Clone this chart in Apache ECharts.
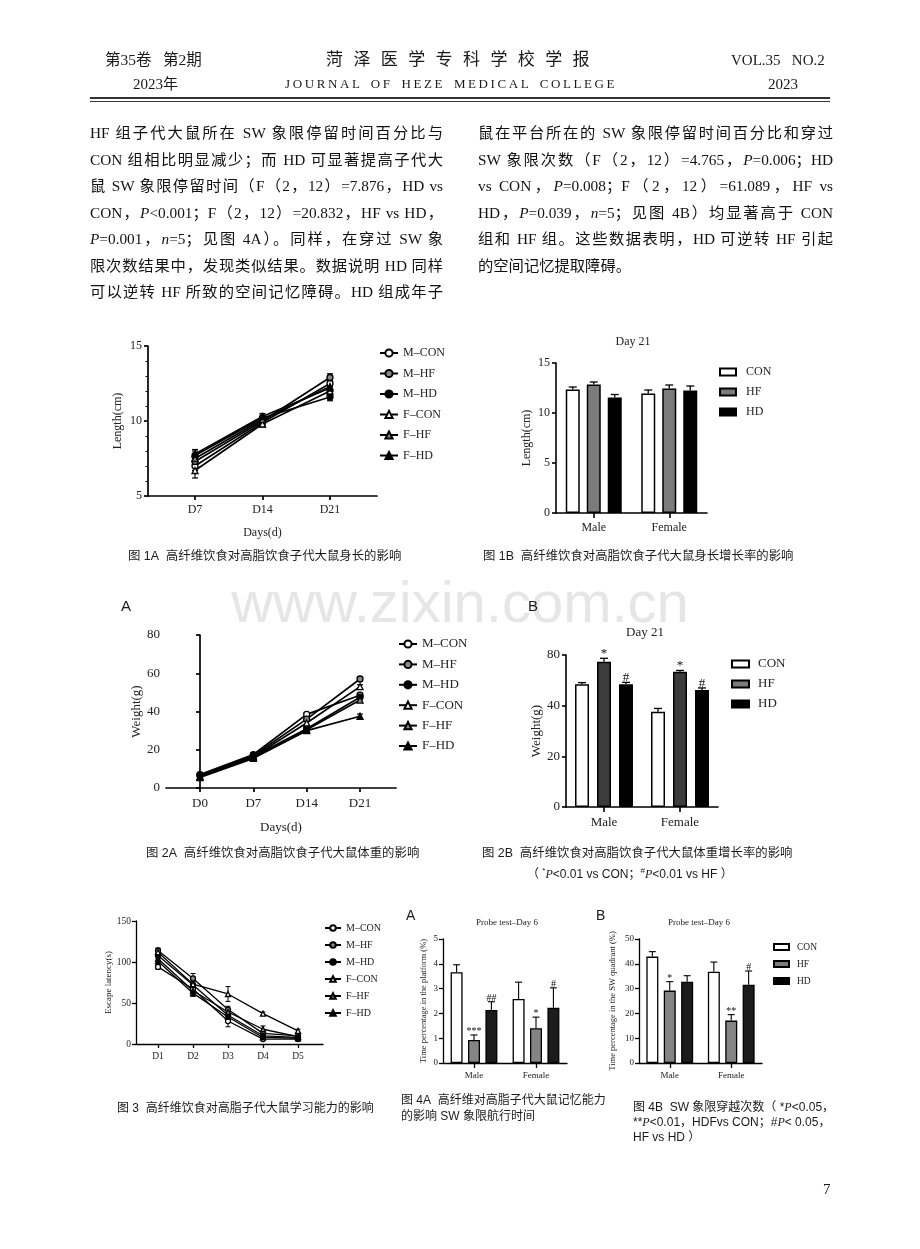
<!DOCTYPE html>
<html><head><meta charset="utf-8">
<script src="https://cdn.jsdelivr.net/npm/echarts@6/dist/echarts.min.js"></script>
<style>
html,body{margin:0;padding:0;background:#fff;}
#page{position:relative;width:920px;height:1249px;overflow:hidden;background:#fff;}
#chart{position:absolute;left:0;top:0;width:920px;height:1249px;z-index:0;}
.t{position:absolute;white-space:nowrap;color:#1a1a1a;z-index:2;}
.serif{font-family:"Liberation Serif","Noto Sans CJK SC",serif;}
.cap{position:absolute;white-space:nowrap;color:#1a1a1a;z-index:2;font-family:"Liberation Sans","Noto Sans CJK SC",sans-serif;font-size:12.4px;line-height:16px;}
.cap2{position:absolute;white-space:nowrap;color:#1a1a1a;z-index:2;font-family:"Liberation Sans","Noto Sans CJK SC",sans-serif;font-size:12px;line-height:16px;}
.para{position:absolute;font-family:"Liberation Serif","Noto Sans CJK SC",serif;font-size:15.3px;line-height:20px;height:20px;overflow:hidden;text-align:justify;text-align-last:justify;color:#111;z-index:2;}
.rule{position:absolute;background:#333;z-index:2;}
</style></head>
<body><div id="page">
<div id="chart"></div>

<div class="t serif" style="left:105px;top:50px;font-size:15.5px;line-height:20px;">第35卷</div>
<div class="t serif" style="left:163px;top:50px;font-size:15.5px;line-height:20px;">第2期</div>
<div class="t serif" style="left:326px;top:49px;font-size:17px;line-height:22px;letter-spacing:10.4px;">菏泽医学专科学校学报</div>
<div class="t serif" style="left:731px;top:50px;font-size:15px;line-height:20px;">VOL.35&nbsp;&nbsp;&nbsp;NO.2</div>
<div class="t serif" style="left:133px;top:74px;font-size:15px;line-height:20px;">2023年</div>
<div class="t serif" style="left:285px;top:75px;font-size:13px;line-height:18px;letter-spacing:2.6px;word-spacing:3px;">JOURNAL OF HEZE MEDICAL COLLEGE</div>
<div class="t serif" style="left:768px;top:74px;font-size:15px;line-height:20px;">2023</div>
<div class="rule" style="left:90px;top:97px;width:740px;height:1.5px;"></div>
<div class="rule" style="left:90px;top:101px;width:740px;height:0.8px;"></div>

<div class="para" style="left:90px;top:123px;width:353px;">HF 组子代大鼠所在 SW 象限停留时间百分比与</div>
<div class="para" style="left:90px;top:150px;width:353px;">CON 组相比明显减少；而 HD 可显著提高子代大</div>
<div class="para" style="left:90px;top:176px;width:353px;">鼠 SW 象限停留时间（F（2，12）=7.876，HD vs</div>
<div class="para" style="left:90px;top:203px;width:353px;">CON，<i>P</i>&lt;0.001；F（2，12）=20.832，HF vs HD，</div>
<div class="para" style="left:90px;top:229px;width:353px;"><i>P</i>=0.001，<i>n</i>=5；见图 4A）。同样，在穿过 SW 象</div>
<div class="para" style="left:90px;top:256px;width:353px;">限次数结果中，发现类似结果。数据说明 HD 同样</div>
<div class="para" style="left:90px;top:282px;width:353px;">可以逆转 HF 所致的空间记忆障碍。HD 组成年子</div>

<div class="para" style="left:478px;top:123px;width:355px;">鼠在平台所在的 SW 象限停留时间百分比和穿过</div>
<div class="para" style="left:478px;top:150px;width:355px;">SW 象限次数（F（2，12）=4.765，<i>P</i>=0.006；HD</div>
<div class="para" style="left:478px;top:176px;width:355px;">vs CON，<i>P</i>=0.008；F（2，12）=61.089，HF vs</div>
<div class="para" style="left:478px;top:203px;width:355px;">HD，<i>P</i>=0.039，<i>n</i>=5；见图 4B）均显著高于 CON</div>
<div class="para" style="left:478px;top:229px;width:355px;">组和 HF 组。这些数据表明，HD 可逆转 HF 引起</div>
<div class="para" style="left:478px;top:256px;width:355px;text-align:left;text-align-last:left;">的空间记忆提取障碍。</div>

<div class="cap" style="left:128px;top:548px;">图 1A&nbsp;&nbsp;高纤维饮食对高脂饮食子代大鼠身长的影响</div>
<div class="cap" style="left:483px;top:548px;">图 1B&nbsp;&nbsp;高纤维饮食对高脂饮食子代大鼠身长增长率的影响</div>
<div class="cap" style="left:121px;top:597px;font-size:15px;line-height:18px;">A</div>
<div class="cap" style="left:528px;top:597px;font-size:15px;line-height:18px;">B</div>
<div class="cap" style="left:146px;top:845px;">图 2A&nbsp;&nbsp;高纤维饮食对高脂饮食子代大鼠体重的影响</div>
<div class="cap" style="left:482px;top:845px;">图 2B&nbsp;&nbsp;高纤维饮食对高脂饮食子代大鼠体重增长率的影响</div>
<div class="cap2" style="left:527px;top:863px;">（ <sup style="font-size:8px;">*</sup><i class="serif">P</i>&lt;0.01 vs CON；<sup style="font-size:8px;">#</sup><i class="serif">P</i>&lt;0.01 vs HF ）</div>
<div class="cap" style="left:406px;top:906px;font-size:14px;line-height:18px;">A</div>
<div class="cap" style="left:596px;top:906px;font-size:14px;line-height:18px;">B</div>
<div class="cap2" style="left:117px;top:1100px;">图 3&nbsp;&nbsp;高纤维饮食对高脂子代大鼠学习能力的影响</div>
<div class="cap2" style="left:401px;top:1092px;">图 4A&nbsp;&nbsp;高纤维对高脂子代大鼠记忆能力</div>
<div class="cap2" style="left:401px;top:1108px;">的影响 SW 象限航行时间</div>
<div class="cap2" style="left:633px;top:1099px;">图 4B&nbsp;&nbsp;SW 象限穿越次数（ *<i class="serif">P</i>&lt;0.05，</div>
<div class="cap2" style="left:633px;top:1114px;">**<i class="serif">P</i>&lt;0.01，HDFvs CON；#<i class="serif">P</i>&lt; 0.05，</div>
<div class="cap2" style="left:633px;top:1129px;">HF vs HD ）</div>
<div class="t serif" style="left:823px;top:1180px;font-size:15px;line-height:18px;">7</div>
</div>
<script>
// ---------------- DATA ----------------
const lineGroups = ['M–CON', 'M–HF', 'M–HD', 'F–CON', 'F–HF', 'F–HD'];

// Fig 1A: body length (cm)
const lenDays = [7, 14, 21];
const lenDayLabels = ['D7', 'D14', 'D21'];
const lenMean = [
  [7.0, 9.9, 12.5],
  [7.3, 10.0, 12.9],
  [7.7, 10.2, 11.6],
  [6.7, 9.8, 12.0],
  [7.5, 10.1, 12.3],
  [7.8, 10.3, 12.2]
];
const lenErr = [
  [0.3, 0.2, 0.2],
  [0.3, 0.2, 0.25],
  [0.3, 0.2, 0.25],
  [0.5, 0.2, 0.3],
  [0.3, 0.2, 0.3],
  [0.3, 0.2, 0.3]
];

// Fig 2A: body weight (g)
const wtDays = [0, 7, 14, 21];
const wtDayLabels = ['D0', 'D7', 'D14', 'D21'];
const wtMean = [
  [7.0, 17.5, 38.5, 48.5],
  [6.8, 17.0, 36.0, 57.0],
  [6.5, 16.5, 31.0, 47.5],
  [6.0, 16.5, 34.0, 53.0],
  [6.0, 16.0, 30.5, 46.0],
  [5.5, 15.5, 30.0, 37.5]
];
const wtErr = [
  [0.5, 0.8, 1.0, 1.2],
  [0.5, 0.8, 1.0, 1.2],
  [0.5, 0.8, 1.0, 1.0],
  [0.5, 0.8, 1.0, 1.0],
  [0.5, 0.8, 1.0, 1.0],
  [0.5, 0.8, 1.0, 1.2]
];

// Fig 3: escape latency (s)
const latDays = [1, 2, 3, 4, 5];
const latDayLabels = ['D1', 'D2', 'D3', 'D4', 'D5'];
const latMean = [
  [94, 67, 28, 6, 6],
  [114, 80, 42, 13, 10],
  [108, 72, 35, 10, 8],
  [112, 73, 61, 37, 16],
  [104, 65, 39, 18, 9],
  [101, 62, 33, 8, 7]
];
const latErr = [
  [3, 4, 7, 1, 1],
  [3, 6, 4, 2, 2],
  [3, 4, 3, 2, 1],
  [3, 4, 9, 2, 2],
  [3, 4, 3, 4, 2],
  [3, 4, 3, 2, 1]
];

// Bar charts
const sexCats = ['Male', 'Female'];
const barGroups = ['CON', 'HF', 'HD'];

// Fig 1B: length day 21
const len21Mean = [[12.35, 11.95], [12.85, 12.45], [11.55, 12.25]];
const len21Err = [[0.25, 0.35], [0.25, 0.35], [0.3, 0.45]];

// Fig 2B: weight day 21 (axis tick labels as printed)
const wt21Mean = [[48.5, 37.6], [57.3, 53.4], [48.5, 46.2]];
const wt21Err = [[0.6, 1.3], [1.4, 0.5], [0.7, 0.8]];
const wt21Annot = [['', ''], ['*', '*'], ['#', '#']];
const wt21TickLabels = ['0', '20', '40', '80'];

// Fig 4A: time percentage in platform (%)
const probeMean = [[3.66, 2.58], [0.93, 1.40], [2.14, 2.23]];
const probeErr = [[0.30, 0.68], [0.20, 0.45], [0.33, 0.80]];
const probeAnnot = [['', ''], ['***', '*'], ['##', '#']];

// Fig 4B: time percentage in SW quadrant (%)
const swMean = [[42.9, 36.8], [29.2, 17.1], [32.8, 31.6]];
const swErr = [[2.0, 3.9], [3.6, 2.4], [2.4, 5.5]];
const swAnnot = [['', ''], ['*', '**'], ['', '#']];

// ---------------- STYLE ----------------
const SERIF = '"Liberation Serif", "Times New Roman", serif';
const markerFill = ['#ffffff', '#8a8a8a', '#000000', '#ffffff', '#8a8a8a', '#000000'];
const markerShape = ['circle', 'circle', 'circle', 'triangle', 'triangle', 'triangle'];

const option = {
  animation: false,
  backgroundColor: 'transparent',
  textStyle: { fontFamily: SERIF },
  grid: [], xAxis: [], yAxis: [], series: [], legend: [], graphic: []
};

function errLine(cap, lw) {
  return function (params, api) {
    const x = api.value(0), m = api.value(1), e = api.value(2);
    const t = api.coord([x, m + e]), b = api.coord([x, m - e]);
    const st = { stroke: '#000', lineWidth: lw };
    return { type: 'group', children: [
      { type: 'line', shape: { x1: t[0], y1: t[1], x2: b[0], y2: b[1] }, style: st },
      { type: 'line', shape: { x1: t[0] - cap, y1: t[1], x2: t[0] + cap, y2: t[1] }, style: st },
      { type: 'line', shape: { x1: b[0] - cap, y1: b[1], x2: b[0] + cap, y2: b[1] }, style: st }
    ] };
  };
}

function errBar(off, cap, lw, annot, fs) {
  return function (params, api) {
    const i = api.value(0), m = api.value(1), e = api.value(2);
    const p0 = api.coord([i, m]), p1 = api.coord([i, m + e]);
    const x = p0[0] + off;
    const st = { stroke: '#000', lineWidth: lw };
    const ch = [
      { type: 'line', shape: { x1: x, y1: p0[1], x2: x, y2: p1[1] }, style: st },
      { type: 'line', shape: { x1: x - cap, y1: p1[1], x2: x + cap, y2: p1[1] }, style: st }
    ];
    const a = annot ? annot[params.dataIndex] : '';
    if (a) {
      ch.push({ type: 'text', x: x, y: p1[1] + fs * 0.15, style: { text: a, align: 'center', verticalAlign: 'bottom', fontSize: fs, fontFamily: SERIF, fill: '#111' } });
    }
    return { type: 'group', children: ch };
  };
}

function axisCommon(lw) {
  return {
    axisLine: { show: true, lineStyle: { color: '#000', width: lw } },
    splitLine: { show: false }
  };
}

function addLineChart(o) {
  const gi = option.grid.length;
  option.grid.push({ left: o.left, top: o.top, width: o.width, height: o.height });
  option.xAxis.push(Object.assign(axisCommon(o.lw), {
    type: 'value', gridIndex: gi, min: o.xmin, max: o.xmax,
    name: o.xname || '', nameLocation: 'middle', nameGap: o.xnameGap || 0,
    nameTextStyle: { fontSize: o.nameSize, color: '#222', fontFamily: SERIF },
    axisTick: { show: true, customValues: o.days, length: 4, lineStyle: { color: '#000', width: o.lw } },
    axisLabel: { customValues: o.days, formatter: v => o.dayLabels[o.days.indexOf(v)], fontSize: o.labelSize, color: '#222', margin: o.xmargin, fontFamily: SERIF }
  }));
  option.yAxis.push(Object.assign(axisCommon(o.lw), {
    type: 'value', gridIndex: gi, min: o.ymin, max: o.ymax, interval: o.yint,
    name: o.yname, nameLocation: 'middle', nameGap: o.ynameGap,
    nameTextStyle: { fontSize: o.nameSize, color: '#222', fontFamily: SERIF },
    axisTick: { show: true, length: 4, lineStyle: { color: '#000', width: o.lw } },
    minorTick: { show: !!o.minor, splitNumber: 5, length: 2.5, lineStyle: { color: '#000', width: 1 } },
    axisLabel: { fontSize: o.labelSize, color: '#222', margin: o.ymargin, fontFamily: SERIF }
  }));
  o.mean.forEach((arr, k) => {
    option.series.push({
      type: 'custom', xAxisIndex: gi, yAxisIndex: gi, z: 2, silent: true,
      data: o.days.map((d, i) => [d, arr[i], o.err[k][i]]),
      renderItem: errLine(o.cap, o.elw)
    });
  });
  o.mean.forEach((arr, k) => {
    option.series.push({
      type: 'line', name: lineGroups[k], xAxisIndex: gi, yAxisIndex: gi, z: 3,
      data: o.days.map((d, i) => [d, arr[i]]),
      symbol: markerShape[k], symbolSize: o.sym,
      lineStyle: { color: '#000', width: o.lw },
      itemStyle: { color: markerFill[k], borderColor: '#000', borderWidth: 1.3 }
    });
  });
  option.legend.push({
    data: lineGroups, orient: 'vertical', left: o.lg.left, top: o.lg.top, padding: 0,
    itemWidth: o.lg.w, itemHeight: o.lg.h, itemGap: o.lg.gap,
    textStyle: { fontSize: o.lg.fs, lineHeight: o.lg.lh, color: '#222', fontFamily: SERIF, padding: [0, 0, 0, o.lg.pad || 0] },
    selectedMode: false
  });
}

function addBarChart(o) {
  const gi = option.grid.length;
  option.grid.push({ left: o.left, top: o.top, width: o.width, height: o.height });
  option.xAxis.push(Object.assign(axisCommon(o.lw), {
    type: 'category', gridIndex: gi, data: sexCats, boundaryGap: true,
    axisTick: { show: true, alignWithLabel: true, length: 5, lineStyle: { color: '#000', width: o.lw } },
    axisLabel: { fontSize: o.labelSize, color: '#222', margin: o.xmargin, fontFamily: SERIF }
  }));
  option.yAxis.push(Object.assign(axisCommon(o.lw), {
    type: 'value', gridIndex: gi, min: 0, max: o.ymax, interval: o.yint,
    name: o.yname, nameLocation: 'middle', nameGap: o.ynameGap,
    nameTextStyle: { fontSize: o.nameSize, color: '#222', fontFamily: SERIF },
    axisTick: { show: true, length: 4, lineStyle: { color: '#000', width: o.lw } },
    axisLabel: { fontSize: o.labelSize, color: '#222', margin: o.ymargin, fontFamily: SERIF,
      formatter: o.tickLabels ? (v => o.tickLabels[Math.round(v / o.yint)]) : null }
  }));
  barGroups.forEach((g, k) => {
    option.series.push({
      type: 'bar', name: g, xAxisIndex: gi, yAxisIndex: gi, z: 2,
      data: o.mean[k], barWidth: o.bw, barGap: (o.gapFrac * 100) + '%',
      itemStyle: { color: o.fills[k], borderColor: '#000', borderWidth: o.bbw }
    });
  });
  const step = o.bw * (1 + o.gapFrac);
  barGroups.forEach((g, k) => {
    option.series.push({
      type: 'custom', xAxisIndex: gi, yAxisIndex: gi, z: 3, silent: true,
      data: o.mean[k].map((m, i) => [i, m, o.err[k][i]]),
      renderItem: errBar((k - 1) * step, o.cap, o.elw, o.annot ? o.annot[k] : null, o.annotSize)
    });
  });
  if (o.lg) {
    option.legend.push({
      data: barGroups.map(n => ({ name: n, icon: 'rect' })), orient: 'vertical', left: o.lg.left, top: o.lg.top, padding: 0,
      itemWidth: o.lg.w, itemHeight: o.lg.h, itemGap: o.lg.gap,
      textStyle: { fontSize: o.lg.fs, lineHeight: o.lg.lh, color: '#222', fontFamily: SERIF, padding: [0, 0, 0, o.lg.pad || 0] },
      selectedMode: false
    });
  }
}

// Fig 1A
addLineChart({ left: 148, top: 346, width: 229, height: 150, xmin: 2.125, xmax: 25.875,
  days: lenDays, dayLabels: lenDayLabels, mean: lenMean, err: lenErr,
  ymin: 5, ymax: 15, yint: 5, minor: true, lw: 1.7, elw: 1.2, sym: 6, cap: 3,
  labelSize: 12, nameSize: 12, xmargin: 8, ymargin: 6,
  xname: 'Days(d)', xnameGap: 31, yname: 'Length(cm)', ynameGap: 24,
  lg: { left: 379, top: 347, w: 18, h: 9, gap: 8.5, fs: 12, lh: 12 } });

// Fig 1B
addBarChart({ left: 556, top: 363, width: 151, height: 150, ymax: 15, yint: 5,
  mean: len21Mean, err: len21Err, bw: 14, gapFrac: 0.5, bbw: 1.5, lw: 1.6, elw: 1.3, cap: 4,
  fills: ['#ffffff', '#7b7b7b', '#000000'], labelSize: 12, nameSize: 12, xmargin: 9, ymargin: 6,
  yname: 'Length(cm)', ynameGap: 23,
  lg: { left: 719, top: 366, w: 16, h: 7, gap: 8, fs: 12, lh: 12, pad: 5 } });

// Fig 2A
addLineChart({ left: 166, top: 635, width: 230, height: 153, xmin: -4.46, xmax: 25.72,
  days: wtDays, dayLabels: wtDayLabels, mean: wtMean, err: wtErr,
  ymin: 0, ymax: 80, yint: 20, lw: 1.7, elw: 1.2, sym: 6, cap: 3,
  labelSize: 13, nameSize: 13, xmargin: 9, ymargin: 6,
  xname: 'Days(d)', xnameGap: 33, yname: 'Weight(g)', ynameGap: 23,
  lg: { left: 398, top: 637.5, w: 18, h: 9, gap: 7.4, fs: 13, lh: 13 } });

// Fig 2B
addBarChart({ left: 566, top: 655, width: 152, height: 152, ymax: 60, yint: 20, tickLabels: wt21TickLabels,
  mean: wt21Mean, err: wt21Err, annot: wt21Annot, annotSize: 13,
  bw: 14, gapFrac: 0.57, bbw: 1.5, lw: 1.6, elw: 1.3, cap: 4,
  fills: ['#ffffff', '#3c3c3c', '#000000'], labelSize: 13, nameSize: 13, xmargin: 9, ymargin: 6,
  yname: 'Weight(g)', ynameGap: 23,
  lg: { left: 731, top: 657.5, w: 17, h: 7, gap: 7, fs: 13, lh: 13, pad: 4 } });

// Fig 3
addLineChart({ left: 136, top: 921, width: 187, height: 123, xmin: 0.371, xmax: 5.714,
  days: latDays, dayLabels: latDayLabels, mean: latMean, err: latErr,
  ymin: 0, ymax: 150, yint: 50, lw: 1.3, elw: 1.0, sym: 5, cap: 2.5,
  labelSize: 9.5, nameSize: 9, xmargin: 7, ymargin: 5,
  yname: 'Escape latency(s)', ynameGap: 22,
  lg: { left: 324, top: 923, w: 16, h: 7, gap: 7, fs: 10, lh: 10, pad: 0 } });

// Fig 4A
addBarChart({ left: 443, top: 939, width: 124, height: 124, ymax: 5, yint: 1,
  mean: probeMean, err: probeErr, annot: probeAnnot, annotSize: 10,
  bw: 12, gapFrac: 0.45, bbw: 1.3, lw: 1.3, elw: 1.1, cap: 3.5,
  fills: ['#ffffff', '#858585', '#1c1c1c'], labelSize: 9, nameSize: 8.5, xmargin: 8, ymargin: 5,
  yname: 'Time percentage in the platform (%)', ynameGap: 15 });

// Fig 4B
addBarChart({ left: 639, top: 939, width: 123, height: 124, ymax: 50, yint: 10,
  mean: swMean, err: swErr, annot: swAnnot, annotSize: 10,
  bw: 12, gapFrac: 0.45, bbw: 1.3, lw: 1.3, elw: 1.1, cap: 3.5,
  fills: ['#ffffff', '#858585', '#1c1c1c'], labelSize: 9, nameSize: 8.5, xmargin: 8, ymargin: 5,
  yname: 'Time percentage in the SW quadrant (%)', ynameGap: 22,
  lg: { left: 773, top: 942, w: 15, h: 6, gap: 7, fs: 9.5, lh: 10, pad: 3 } });

option.graphic = [
  { type: 'text', x: 460, y: 606, z: -10, silent: true,
    style: { text: 'www.zixin.com.cn', align: 'center', verticalAlign: 'middle', fontSize: 58, fontFamily: '"Liberation Sans", Arial, sans-serif', fill: '#e6e6e6' } },
  { type: 'text', x: 633, y: 342, style: { text: 'Day 21', align: 'center', verticalAlign: 'middle', fontSize: 12, fontFamily: SERIF, fill: '#222' } },
  { type: 'text', x: 645, y: 633, style: { text: 'Day 21', align: 'center', verticalAlign: 'middle', fontSize: 13, fontFamily: SERIF, fill: '#222' } },
  { type: 'text', x: 507, y: 923, style: { text: 'Probe test–Day 6', align: 'center', verticalAlign: 'middle', fontSize: 9, fontFamily: SERIF, fill: '#222' } },
  { type: 'text', x: 699, y: 923, style: { text: 'Probe test–Day 6', align: 'center', verticalAlign: 'middle', fontSize: 9, fontFamily: SERIF, fill: '#222' } }
];

const chart = echarts.init(document.getElementById('chart'), null, { renderer: 'canvas' });
chart.setOption(option);
</script>
</body></html>
